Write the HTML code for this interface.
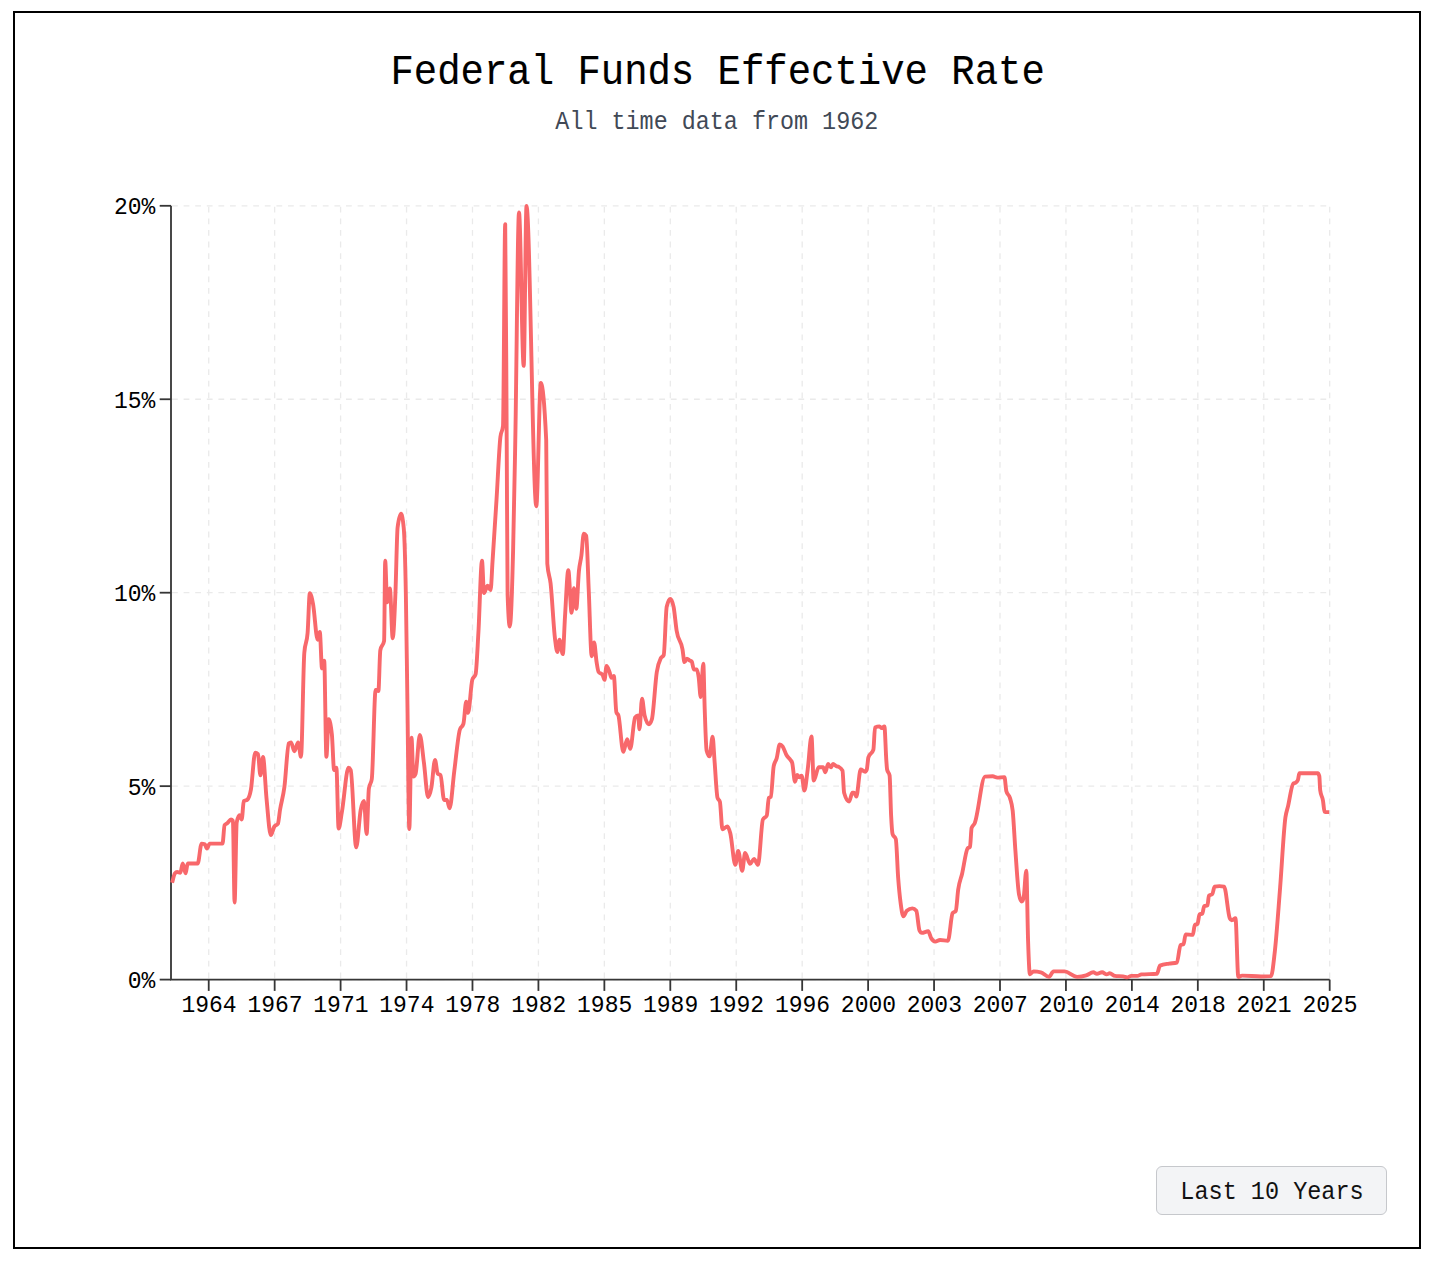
<!DOCTYPE html>
<html><head><meta charset="utf-8"><style>
html,body{margin:0;padding:0;background:#fff;width:1440px;height:1267px;overflow:hidden;}
.box{position:absolute;left:12.5px;top:10.8px;width:1404.5px;height:1234.5px;border:2px solid #000;}
svg{position:absolute;left:0;top:0;}
text{font-family:"Liberation Mono",monospace;}
.btn{position:absolute;left:1156px;top:1166px;width:229px;height:47px;border:1px solid #c6c8cc;border-radius:6px;background:#f3f4f6;}
</style></head><body>
<div class="box"></div>
<div class="btn"></div>
<svg width="1440" height="1267" viewBox="0 0 1440 1267">
<g transform="translate(717.6,84.0) scale(1,1.094)"><text x="0" y="0" text-anchor="middle" font-size="38.95" fill="#000" stroke="#000" stroke-width="0.15">Federal Funds Effective Rate</text></g>
<g transform="translate(716.8,128.9) scale(1,1.09)"><text x="0" y="0" text-anchor="middle" font-size="23.4" fill="#414956">All time data from 1962</text></g>
<g stroke="#eaeaea" stroke-width="1.3" stroke-dasharray="5.8,5.8" stroke-dashoffset="-1" fill="none">
<line x1="208.72" y1="205.80" x2="208.72" y2="979.60"/>
<line x1="274.66" y1="205.80" x2="274.66" y2="979.60"/>
<line x1="340.60" y1="205.80" x2="340.60" y2="979.60"/>
<line x1="406.54" y1="205.80" x2="406.54" y2="979.60"/>
<line x1="472.48" y1="205.80" x2="472.48" y2="979.60"/>
<line x1="538.42" y1="205.80" x2="538.42" y2="979.60"/>
<line x1="604.36" y1="205.80" x2="604.36" y2="979.60"/>
<line x1="670.30" y1="205.80" x2="670.30" y2="979.60"/>
<line x1="736.24" y1="205.80" x2="736.24" y2="979.60"/>
<line x1="802.18" y1="205.80" x2="802.18" y2="979.60"/>
<line x1="868.12" y1="205.80" x2="868.12" y2="979.60"/>
<line x1="934.06" y1="205.80" x2="934.06" y2="979.60"/>
<line x1="1000.00" y1="205.80" x2="1000.00" y2="979.60"/>
<line x1="1065.94" y1="205.80" x2="1065.94" y2="979.60"/>
<line x1="1131.88" y1="205.80" x2="1131.88" y2="979.60"/>
<line x1="1197.82" y1="205.80" x2="1197.82" y2="979.60"/>
<line x1="1263.76" y1="205.80" x2="1263.76" y2="979.60"/>
<line x1="1329.70" y1="205.80" x2="1329.70" y2="979.60"/>
<line x1="171.0" y1="979.60" x2="1329.7" y2="979.60"/>
<line x1="171.0" y1="786.15" x2="1329.7" y2="786.15"/>
<line x1="171.0" y1="592.70" x2="1329.7" y2="592.70"/>
<line x1="171.0" y1="399.25" x2="1329.7" y2="399.25"/>
<line x1="171.0" y1="205.80" x2="1329.7" y2="205.80"/>
</g>
<g stroke="#363636" stroke-width="1.8" fill="none">
<path d="M171.0,205.80V979.60H1329.7" />
<line x1="159.7" y1="979.60" x2="171.0" y2="979.60"/>
<line x1="159.7" y1="786.15" x2="171.0" y2="786.15"/>
<line x1="159.7" y1="592.70" x2="171.0" y2="592.70"/>
<line x1="159.7" y1="399.25" x2="171.0" y2="399.25"/>
<line x1="159.7" y1="205.80" x2="171.0" y2="205.80"/>
<line x1="208.72" y1="979.60" x2="208.72" y2="990.90"/>
<line x1="274.66" y1="979.60" x2="274.66" y2="990.90"/>
<line x1="340.60" y1="979.60" x2="340.60" y2="990.90"/>
<line x1="406.54" y1="979.60" x2="406.54" y2="990.90"/>
<line x1="472.48" y1="979.60" x2="472.48" y2="990.90"/>
<line x1="538.42" y1="979.60" x2="538.42" y2="990.90"/>
<line x1="604.36" y1="979.60" x2="604.36" y2="990.90"/>
<line x1="670.30" y1="979.60" x2="670.30" y2="990.90"/>
<line x1="736.24" y1="979.60" x2="736.24" y2="990.90"/>
<line x1="802.18" y1="979.60" x2="802.18" y2="990.90"/>
<line x1="868.12" y1="979.60" x2="868.12" y2="990.90"/>
<line x1="934.06" y1="979.60" x2="934.06" y2="990.90"/>
<line x1="1000.00" y1="979.60" x2="1000.00" y2="990.90"/>
<line x1="1065.94" y1="979.60" x2="1065.94" y2="990.90"/>
<line x1="1131.88" y1="979.60" x2="1131.88" y2="990.90"/>
<line x1="1197.82" y1="979.60" x2="1197.82" y2="990.90"/>
<line x1="1263.76" y1="979.60" x2="1263.76" y2="990.90"/>
<line x1="1329.70" y1="979.60" x2="1329.70" y2="990.90"/>
</g>
<g font-size="23" fill="#000">
<g transform="translate(155.3,988.10) scale(1,1.08)"><text x="0" y="0" text-anchor="end">0%</text></g>
<g transform="translate(155.3,794.65) scale(1,1.08)"><text x="0" y="0" text-anchor="end">5%</text></g>
<g transform="translate(155.3,601.20) scale(1,1.08)"><text x="0" y="0" text-anchor="end">10%</text></g>
<g transform="translate(155.3,407.75) scale(1,1.08)"><text x="0" y="0" text-anchor="end">15%</text></g>
<g transform="translate(155.3,214.30) scale(1,1.08)"><text x="0" y="0" text-anchor="end">20%</text></g>
<g transform="translate(209.02,1011.9) scale(1,1.08)"><text x="0" y="0" text-anchor="middle">1964</text></g>
<g transform="translate(274.96,1011.9) scale(1,1.08)"><text x="0" y="0" text-anchor="middle">1967</text></g>
<g transform="translate(340.90,1011.9) scale(1,1.08)"><text x="0" y="0" text-anchor="middle">1971</text></g>
<g transform="translate(406.84,1011.9) scale(1,1.08)"><text x="0" y="0" text-anchor="middle">1974</text></g>
<g transform="translate(472.78,1011.9) scale(1,1.08)"><text x="0" y="0" text-anchor="middle">1978</text></g>
<g transform="translate(538.72,1011.9) scale(1,1.08)"><text x="0" y="0" text-anchor="middle">1982</text></g>
<g transform="translate(604.66,1011.9) scale(1,1.08)"><text x="0" y="0" text-anchor="middle">1985</text></g>
<g transform="translate(670.60,1011.9) scale(1,1.08)"><text x="0" y="0" text-anchor="middle">1989</text></g>
<g transform="translate(736.54,1011.9) scale(1,1.08)"><text x="0" y="0" text-anchor="middle">1992</text></g>
<g transform="translate(802.48,1011.9) scale(1,1.08)"><text x="0" y="0" text-anchor="middle">1996</text></g>
<g transform="translate(868.42,1011.9) scale(1,1.08)"><text x="0" y="0" text-anchor="middle">2000</text></g>
<g transform="translate(934.36,1011.9) scale(1,1.08)"><text x="0" y="0" text-anchor="middle">2003</text></g>
<g transform="translate(1000.30,1011.9) scale(1,1.08)"><text x="0" y="0" text-anchor="middle">2007</text></g>
<g transform="translate(1066.24,1011.9) scale(1,1.08)"><text x="0" y="0" text-anchor="middle">2010</text></g>
<g transform="translate(1132.18,1011.9) scale(1,1.08)"><text x="0" y="0" text-anchor="middle">2014</text></g>
<g transform="translate(1198.12,1011.9) scale(1,1.08)"><text x="0" y="0" text-anchor="middle">2018</text></g>
<g transform="translate(1264.06,1011.9) scale(1,1.08)"><text x="0" y="0" text-anchor="middle">2021</text></g>
<g transform="translate(1330.00,1011.9) scale(1,1.08)"><text x="0" y="0" text-anchor="middle">2025</text></g>
</g>
<path d="M172.10,882.70C173.03,879.60 173.97,874.59 174.90,873.40C175.63,872.47 176.37,872.00 177.10,872.00C178.17,872.00 179.23,872.70 180.30,872.70C181.12,872.70 181.93,863.50 182.75,863.50C183.70,863.50 184.65,873.40 185.60,873.40C186.30,873.40 187.00,863.50 187.70,863.50C191.03,863.50 194.37,863.50 197.70,863.50C199.00,863.50 200.30,843.60 201.60,843.60C202.67,843.60 203.73,843.83 204.80,844.30C205.50,844.61 206.20,848.60 206.90,848.60C207.83,848.60 208.77,843.60 209.70,843.60C213.97,843.60 218.23,843.60 222.50,843.60C223.20,843.60 223.90,826.11 224.60,825.10C225.57,823.70 226.53,823.82 227.50,823.00C228.67,822.01 229.83,819.50 231.00,819.50C231.63,819.50 232.27,819.97 232.90,820.90C233.47,821.74 234.03,902.50 234.60,902.50C235.30,902.50 236.00,825.79 236.70,822.30C237.65,817.57 238.60,815.20 239.55,815.20C240.27,815.20 240.98,819.50 241.70,819.50C242.40,819.50 243.10,801.54 243.80,801.00C245.00,800.07 246.20,800.53 247.40,799.60C248.57,798.69 249.73,795.93 250.90,789.60C252.33,781.82 253.77,752.70 255.20,752.70C256.13,752.70 257.07,753.17 258.00,754.10C258.80,754.90 259.60,775.40 260.40,775.40C261.27,775.40 262.13,757.00 263.00,757.00C264.17,757.00 265.33,786.14 266.50,798.20C267.93,813.02 269.37,835.10 270.80,835.10C271.97,835.10 273.13,828.48 274.30,826.60C275.50,824.67 276.70,825.63 277.90,823.70C278.60,822.57 279.30,814.27 280.00,810.00C281.47,801.05 282.93,798.08 284.40,787.00C285.87,775.92 287.33,744.97 288.80,743.50C289.53,742.77 290.27,742.40 291.00,742.40C292.13,742.40 293.27,751.30 294.40,751.30C295.63,751.30 296.87,742.40 298.10,742.40C299.07,742.40 300.03,756.80 301.00,756.80C302.10,756.80 303.20,666.17 304.30,652.90C305.40,639.63 306.50,646.27 307.60,633.00C308.33,624.16 309.07,593.30 309.80,593.30C310.90,593.30 312.00,598.52 313.10,604.30C314.60,612.18 316.10,639.70 317.60,639.70C318.33,639.70 319.07,631.90 319.80,631.90C320.53,631.90 321.27,668.40 322.00,668.40C322.73,668.40 323.47,660.70 324.20,660.70C324.93,660.70 325.67,756.80 326.40,756.80C327.13,756.80 327.87,719.20 328.60,719.20C329.70,719.20 330.80,724.37 331.90,734.70C332.63,741.59 333.37,770.00 334.10,770.00C334.87,770.00 335.63,767.80 336.40,767.80C337.13,767.80 337.87,828.60 338.60,828.60C339.70,828.60 340.80,818.14 341.90,812.00C344.10,799.71 346.30,767.80 348.50,767.80C349.23,767.80 349.97,768.53 350.70,770.00C352.53,773.67 354.37,847.40 356.20,847.40C357.70,847.40 359.20,817.41 360.70,809.80C361.80,804.22 362.90,801.00 364.00,801.00C364.87,801.00 365.73,834.10 366.60,834.10C367.37,834.10 368.13,793.52 368.90,788.50C369.87,782.17 370.83,785.33 371.80,779.00C373.07,770.70 374.33,690.00 375.60,690.00C376.53,690.00 377.47,691.00 378.40,691.00C379.03,691.00 379.67,653.47 380.30,650.30C381.57,643.97 382.83,647.13 384.10,640.80C384.47,638.97 384.83,560.80 385.20,560.80C385.83,560.80 386.47,602.30 387.10,602.30C388.03,602.30 388.97,588.50 389.90,588.50C390.83,588.50 391.77,638.20 392.70,638.20C393.60,638.20 394.50,615.58 395.40,594.00C396.13,576.41 396.87,533.55 397.60,527.60C398.73,518.40 399.87,513.80 401.00,513.80C401.90,513.80 402.80,518.40 403.70,527.60C404.43,535.10 405.17,556.88 405.90,596.80C406.37,622.21 406.83,661.52 407.30,693.50C407.97,739.18 408.63,829.00 409.30,829.00C410.03,829.00 410.77,737.80 411.50,737.80C412.13,737.80 412.77,776.50 413.40,776.50C414.13,776.50 414.87,775.57 415.60,773.70C417.00,770.14 418.40,735.00 419.80,735.00C421.17,735.00 422.53,752.38 423.90,762.60C425.30,773.07 426.70,797.20 428.10,797.20C429.20,797.20 430.30,793.22 431.40,787.50C432.60,781.26 433.80,759.90 435.00,759.90C435.90,759.90 436.80,772.80 437.70,773.70C438.63,774.63 439.57,774.17 440.50,775.10C441.70,776.30 442.90,800.00 444.10,800.00C445.03,800.00 445.97,800.00 446.90,800.00C447.80,800.00 448.70,808.30 449.60,808.30C451.17,808.30 452.73,782.96 454.30,770.90C456.17,756.53 458.03,735.47 459.90,729.50C461.07,725.77 462.23,727.63 463.40,723.90C464.33,720.91 465.27,701.80 466.20,701.80C466.83,701.80 467.47,712.90 468.10,712.90C469.50,712.90 470.90,684.37 472.30,679.70C473.40,676.03 474.50,677.87 475.60,674.20C476.53,671.09 477.47,648.64 478.40,632.70C479.60,612.21 480.80,560.80 482.00,560.80C482.67,560.80 483.33,593.00 484.00,593.00C485.20,593.00 486.40,585.70 487.60,585.70C488.60,585.70 489.60,590.10 490.60,590.10C491.23,590.10 491.87,571.51 492.50,562.00C493.83,541.98 495.17,521.11 496.50,500.00C497.80,479.42 499.10,448.00 500.40,437.00C501.27,429.67 502.13,433.33 503.00,426.00C503.73,419.79 504.47,224.10 505.20,224.10C505.70,224.10 506.20,359.37 506.70,440.00C507.00,488.38 507.30,585.77 507.60,594.50C508.33,615.83 509.07,626.50 509.80,626.50C510.90,626.50 512.00,593.67 513.10,550.40C513.83,521.56 514.57,479.90 515.30,440.00C516.53,372.90 517.77,212.40 519.00,212.40C520.57,212.40 522.13,365.90 523.70,365.90C524.63,365.90 525.57,206.00 526.50,206.00C529.77,206.00 533.03,506.20 536.30,506.20C537.80,506.20 539.30,383.00 540.80,383.00C542.60,383.00 544.40,402.00 546.20,440.00C546.57,447.74 546.93,559.18 547.30,563.60C548.40,576.87 549.50,573.80 550.60,583.50C552.07,596.44 553.53,626.81 555.00,638.70C555.77,644.91 556.53,652.00 557.30,652.00C558.03,652.00 558.77,639.80 559.50,639.80C560.60,639.80 561.70,654.10 562.80,654.10C563.53,654.10 564.27,628.22 565.00,616.60C566.10,599.16 567.20,570.20 568.30,570.20C569.40,570.20 570.50,612.80 571.60,612.80C572.37,612.80 573.13,588.10 573.90,588.10C574.70,588.10 575.50,608.80 576.30,608.80C577.17,608.80 578.03,580.22 578.90,571.30C579.73,562.72 580.57,561.92 581.40,555.50C582.20,549.33 583.00,533.80 583.80,533.80C584.60,533.80 585.40,534.47 586.20,535.80C587.03,537.19 587.87,570.94 588.70,589.10C589.70,610.90 590.70,656.20 591.70,656.20C592.50,656.20 593.30,642.40 594.10,642.40C594.93,642.40 595.77,656.89 596.60,662.10C597.27,666.27 597.93,671.03 598.60,672.00C599.93,673.93 601.27,672.97 602.60,674.90C603.23,675.82 603.87,679.90 604.50,679.90C605.17,679.90 605.83,666.00 606.50,666.00C607.50,666.00 608.50,669.32 609.50,672.00C610.13,673.70 610.77,677.90 611.40,677.90C612.20,677.90 613.00,675.90 613.80,675.90C614.67,675.90 615.53,709.80 616.40,712.40C617.07,714.40 617.73,713.40 618.40,715.40C620.03,720.30 621.67,751.90 623.30,751.90C624.60,751.90 625.90,739.10 627.20,739.10C628.20,739.10 629.20,748.90 630.20,748.90C631.83,748.90 633.47,719.58 635.10,717.40C636.10,716.07 637.10,715.40 638.10,715.40C638.57,715.40 639.03,729.20 639.50,729.20C640.33,729.20 641.17,698.60 642.00,698.60C642.87,698.60 643.73,711.81 644.60,715.40C646.03,721.33 647.47,724.30 648.90,724.30C649.90,724.30 650.90,722.63 651.90,719.30C653.53,713.86 655.17,682.19 656.80,672.00C658.13,663.68 659.47,660.93 660.80,658.20C661.77,656.22 662.73,657.20 663.70,655.20C664.70,653.13 665.70,611.19 666.70,606.80C667.90,601.53 669.10,598.90 670.30,598.90C671.40,598.90 672.50,601.53 673.60,606.80C674.60,611.59 675.60,624.19 676.60,630.50C678.57,642.91 680.53,638.31 682.50,649.30C683.17,653.02 683.83,662.10 684.50,662.10C685.30,662.10 686.10,658.60 686.90,658.60C687.90,658.60 688.90,660.02 689.90,660.60C690.53,660.97 691.17,660.93 691.80,661.60C692.47,662.30 693.13,669.50 693.80,669.50C694.80,669.50 695.80,669.50 696.80,669.50C697.43,669.50 698.07,673.01 698.70,677.40C699.37,682.02 700.03,697.10 700.70,697.10C701.57,697.10 702.43,663.60 703.30,663.60C703.77,663.60 704.23,695.88 704.70,708.90C705.33,726.57 705.97,747.91 706.60,750.40C707.60,754.33 708.60,756.30 709.60,756.30C710.60,756.30 711.60,736.60 712.60,736.60C713.23,736.60 713.87,752.39 714.50,760.30C715.50,772.78 716.50,794.55 717.50,797.80C718.30,800.40 719.10,799.10 719.90,801.70C720.73,804.41 721.57,829.30 722.40,829.30C724.07,829.30 725.73,826.40 727.40,826.40C728.37,826.40 729.33,829.60 730.30,833.30C731.97,839.68 733.63,864.90 735.30,864.90C736.27,864.90 737.23,851.00 738.20,851.00C739.53,851.00 740.87,870.80 742.20,870.80C743.17,870.80 744.13,853.00 745.10,853.00C746.77,853.00 748.43,863.90 750.10,863.90C751.40,863.90 752.70,858.90 754.00,858.90C755.33,858.90 756.67,864.90 758.00,864.90C759.63,864.90 761.27,822.85 762.90,819.50C764.20,816.83 765.50,818.17 766.80,815.50C767.47,814.13 768.13,798.47 768.80,797.80C769.47,797.13 770.13,797.47 770.80,796.80C771.77,795.83 772.73,771.29 773.70,766.20C774.70,760.93 775.70,761.92 776.70,758.30C777.70,754.68 778.70,744.50 779.70,744.50C780.67,744.50 781.63,745.13 782.60,746.40C783.93,748.15 785.27,753.02 786.60,755.30C787.90,757.52 789.20,757.98 790.50,760.00C791.07,760.88 791.63,760.97 792.20,762.90C793.13,766.08 794.07,781.70 795.00,781.70C795.73,781.70 796.47,775.00 797.20,775.00C797.93,775.00 798.67,777.20 799.40,777.20C800.13,777.20 800.87,775.60 801.60,775.60C802.53,775.60 803.47,790.50 804.40,790.50C805.50,790.50 806.60,777.70 807.70,769.50C808.97,760.06 810.23,736.40 811.50,736.40C812.23,736.40 812.97,780.60 813.70,780.60C815.37,780.60 817.03,767.30 818.70,767.30C820.17,767.30 821.63,767.30 823.10,767.30C823.83,767.30 824.57,772.30 825.30,772.30C826.23,772.30 827.17,764.00 828.10,764.00C829.03,764.00 829.97,767.30 830.90,767.30C831.63,767.30 832.37,764.00 833.10,764.00C834.20,764.00 835.30,765.73 836.40,766.20C837.13,766.52 837.87,766.41 838.60,766.80C839.90,767.48 841.20,768.07 842.50,770.60C843.03,771.64 843.57,790.82 844.10,792.70C845.77,798.57 847.43,801.50 849.10,801.50C850.20,801.50 851.30,792.70 852.40,792.70C852.97,792.70 853.53,792.70 854.10,792.70C854.83,792.70 855.57,796.60 856.30,796.60C857.77,796.60 859.23,769.50 860.70,769.50C862.17,769.50 863.63,771.70 865.10,771.70C865.67,771.70 866.23,770.97 866.80,769.50C867.33,768.12 867.87,759.06 868.40,757.40C870.07,752.20 871.73,754.80 873.40,749.60C873.93,747.94 874.47,727.76 875.00,727.50C876.50,726.77 878.00,726.40 879.50,726.40C880.23,726.40 880.97,728.10 881.70,728.10C882.60,728.10 883.50,726.40 884.40,726.40C885.03,726.40 885.67,751.39 886.30,760.00C886.57,763.63 886.83,768.22 887.10,769.50C887.93,773.50 888.77,771.50 889.60,775.50C890.10,777.90 890.60,805.52 891.10,815.30C891.60,825.08 892.10,832.70 892.60,834.20C893.67,837.40 894.73,835.80 895.80,839.00C896.60,841.40 897.40,867.76 898.20,878.40C898.97,888.59 899.73,896.03 900.50,902.10C901.47,909.75 902.43,916.30 903.40,916.30C904.53,916.30 905.67,911.77 906.80,910.80C908.67,909.20 910.53,908.40 912.40,908.40C913.70,908.40 915.00,909.20 916.30,910.80C917.37,912.11 918.43,928.27 919.50,930.50C920.27,932.10 921.03,932.90 921.80,932.90C923.93,932.90 926.07,931.30 928.20,931.30C929.23,931.30 930.27,936.75 931.30,938.40C932.63,940.53 933.97,941.60 935.30,941.60C936.87,941.60 938.43,940.00 940.00,940.00C942.63,940.00 945.27,940.80 947.90,940.80C949.47,940.80 951.03,915.55 952.60,913.20C953.67,911.60 954.73,912.40 955.80,910.80C956.60,909.60 957.40,895.13 958.20,889.50C959.50,880.35 960.80,879.26 962.10,873.70C963.93,865.86 965.77,850.84 967.60,848.40C968.40,847.33 969.20,847.87 970.00,846.80C970.53,846.09 971.07,829.52 971.60,827.90C972.63,824.77 973.67,825.49 974.70,823.20C978.13,815.61 981.57,776.87 985.00,776.60C987.57,776.40 990.13,776.30 992.70,776.30C994.23,776.30 995.77,777.60 997.30,777.60C999.70,777.60 1002.10,777.20 1004.50,777.20C1005.10,777.20 1005.70,788.56 1006.30,790.90C1007.53,795.70 1008.77,793.73 1010.00,798.10C1010.90,801.29 1011.80,802.33 1012.70,810.80C1013.60,819.27 1014.50,838.43 1015.40,850.70C1016.60,867.06 1017.80,888.04 1019.00,894.30C1019.93,899.17 1020.87,901.60 1021.80,901.60C1022.40,901.60 1023.00,900.37 1023.60,897.90C1024.50,894.20 1025.40,870.70 1026.30,870.70C1026.90,870.70 1027.50,924.25 1028.10,941.50C1028.70,958.75 1029.30,974.20 1029.90,974.20C1031.13,974.20 1032.37,971.40 1033.60,971.40C1036.00,971.40 1038.40,971.70 1040.80,972.30C1043.53,972.98 1046.27,976.90 1049.00,976.90C1050.50,976.90 1052.00,971.40 1053.50,971.40C1057.13,971.40 1060.77,971.40 1064.40,971.40C1068.63,971.40 1072.87,976.90 1077.10,976.90C1080.13,976.90 1083.17,976.36 1086.20,975.40C1088.57,974.65 1090.93,972.30 1093.30,972.30C1094.50,972.30 1095.70,973.80 1096.90,973.80C1098.63,973.80 1100.37,972.30 1102.10,972.30C1103.63,972.30 1105.17,974.40 1106.70,974.40C1107.70,974.40 1108.70,973.30 1109.70,973.30C1111.43,973.30 1113.17,975.69 1114.90,975.90C1117.63,976.23 1120.37,976.07 1123.10,976.40C1124.47,976.57 1125.83,977.40 1127.20,977.40C1128.57,977.40 1129.93,975.90 1131.30,975.90C1133.33,975.90 1135.37,975.90 1137.40,975.90C1138.77,975.90 1140.13,974.51 1141.50,974.40C1146.63,974.00 1151.77,974.20 1156.90,973.80C1157.93,973.72 1158.97,966.05 1160.00,965.60C1163.07,964.27 1166.13,964.12 1169.20,963.60C1171.77,963.16 1174.33,963.27 1176.90,962.60C1178.10,962.29 1179.30,945.87 1180.50,945.10C1181.53,944.43 1182.57,944.77 1183.60,944.10C1184.27,943.67 1184.93,934.40 1185.60,934.40C1188.00,934.40 1190.40,934.90 1192.80,934.90C1193.47,934.90 1194.13,925.49 1194.80,925.00C1195.70,924.33 1196.60,924.67 1197.50,924.00C1198.17,923.51 1198.83,914.93 1199.50,914.50C1200.43,913.90 1201.37,914.20 1202.30,913.60C1202.93,913.19 1203.57,906.19 1204.20,906.00C1205.30,905.67 1206.40,905.83 1207.50,905.50C1207.97,905.36 1208.43,896.01 1208.90,895.60C1210.03,894.60 1211.17,895.10 1212.30,894.10C1213.07,893.42 1213.83,886.76 1214.60,886.60C1216.20,886.27 1217.80,886.10 1219.40,886.10C1220.97,886.10 1222.53,886.27 1224.10,886.60C1226.00,887.00 1227.90,914.50 1229.80,918.30C1230.43,919.57 1231.07,920.20 1231.70,920.20C1232.97,920.20 1234.23,918.30 1235.50,918.30C1236.43,918.30 1237.37,977.00 1238.30,977.00C1239.57,977.00 1240.83,975.60 1242.10,975.60C1248.40,975.60 1254.70,976.50 1261.00,976.50C1264.33,976.50 1267.67,976.37 1271.00,976.10C1272.27,976.00 1273.53,962.81 1274.80,951.70C1276.57,936.20 1278.33,910.17 1280.10,887.80C1281.87,865.43 1283.63,830.27 1285.40,817.50C1286.27,811.23 1287.13,810.13 1288.00,806.40C1289.73,798.94 1291.47,785.14 1293.20,783.70C1294.00,783.03 1294.80,783.36 1295.60,782.70C1296.37,782.07 1297.13,781.77 1297.90,779.90C1298.40,778.68 1298.90,773.30 1299.40,773.30C1305.53,773.30 1311.67,773.30 1317.80,773.30C1318.30,773.30 1318.80,774.23 1319.30,776.10C1319.60,777.22 1319.90,788.07 1320.20,790.30C1321.13,797.23 1322.07,795.07 1323.00,800.70C1323.50,803.71 1324.00,811.38 1324.50,811.60C1325.27,811.93 1326.03,812.10 1326.80,812.10C1327.60,812.10 1328.40,812.10 1329.20,812.10" fill="none" stroke="#f8686b" stroke-width="3.9" stroke-linejoin="round" stroke-linecap="butt"/>
<g transform="translate(1272,1198.9) scale(1,1.09)"><text x="0" y="0" text-anchor="middle" font-size="23.5" fill="#111">Last 10 Years</text></g>
</svg>
</body></html>
